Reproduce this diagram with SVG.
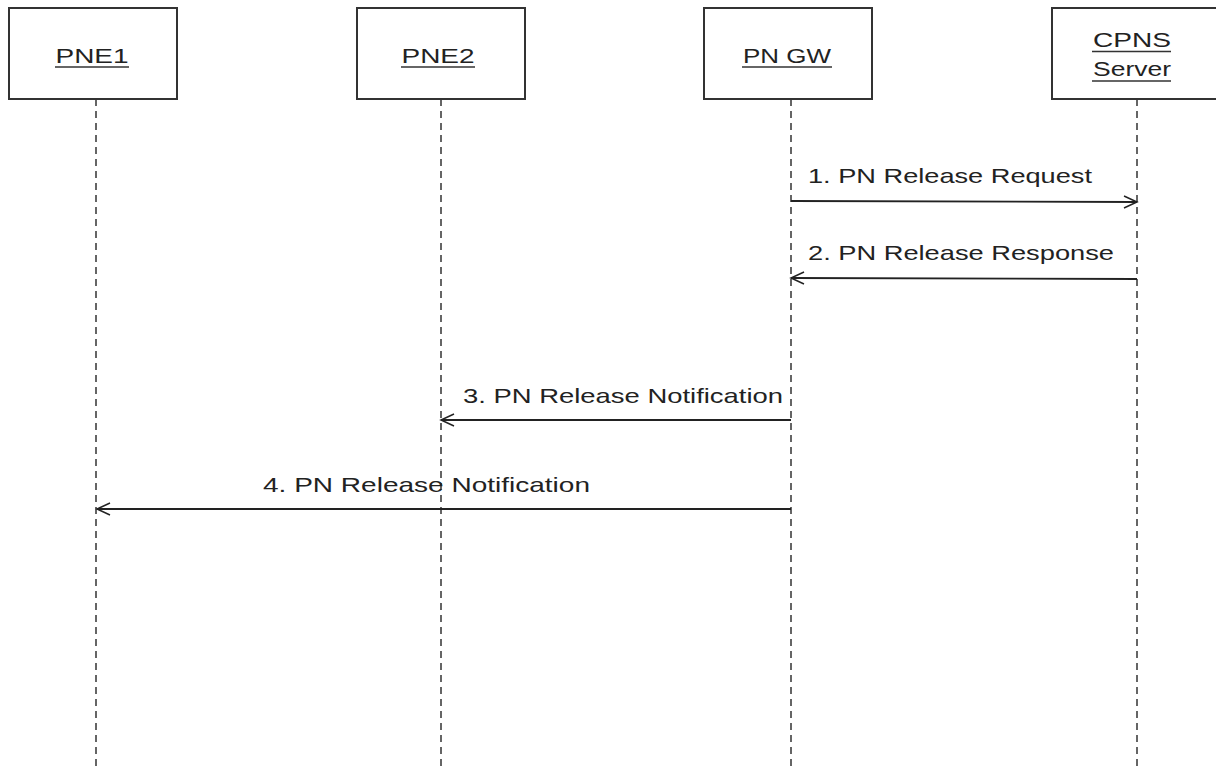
<svg xmlns="http://www.w3.org/2000/svg" width="1216" height="767" viewBox="0 0 1216 767">
<style>
.box{fill:#fff;stroke:#333;stroke-width:2}
.life{stroke:#333;stroke-width:1.5;stroke-dasharray:7 5;fill:none}
.msg{stroke:#222;stroke-width:1.8;fill:none}
.t{font-family:"Liberation Sans",Arial,sans-serif;font-size:21px;fill:#222}
.u{stroke:#333;stroke-width:1.5}
</style>
<defs>
<marker id="ah" markerWidth="16" markerHeight="14" refX="14" refY="7" orient="auto" markerUnits="userSpaceOnUse">
<path d="M1,1 L14,7 L1,13" fill="none" stroke="#222" stroke-width="1.5"/>
</marker>
</defs>
<rect width="1216" height="767" fill="#fff"/>
<g id="lifelines">
<line class="life" x1="96" y1="99" x2="96" y2="767"/>
<line class="life" x1="441" y1="99" x2="441" y2="767"/>
<line class="life" x1="791" y1="99" x2="791" y2="767"/>
<line class="life" x1="1137" y1="99" x2="1137" y2="767"/>
</g>
<g id="PNE1">
<rect class="box" x="9" y="8" width="168" height="91"/>
<text class="t" x="92" y="63" text-anchor="middle" textLength="73" lengthAdjust="spacingAndGlyphs">PNE1</text>
<line class="u" x1="55" y1="67" x2="129" y2="67"/>
</g>
<g id="PNE2">
<rect class="box" x="357" y="8" width="168" height="91"/>
<text class="t" x="438" y="63" text-anchor="middle" textLength="73" lengthAdjust="spacingAndGlyphs">PNE2</text>
<line class="u" x1="401" y1="67" x2="475" y2="67"/>
</g>
<g id="PNGW">
<rect class="box" x="704" y="8" width="168" height="91"/>
<text class="t" x="787" y="63" text-anchor="middle" textLength="88" lengthAdjust="spacingAndGlyphs">PN GW</text>
<line class="u" x1="742" y1="67" x2="832" y2="67"/>
</g>
<g id="CPNS">
<rect class="box" x="1052" y="8" width="168" height="91"/>
<text class="t" x="1132" y="47" text-anchor="middle" textLength="78" lengthAdjust="spacingAndGlyphs">CPNS</text>
<line class="u" x1="1092" y1="51.500" x2="1171" y2="51.500"/>
<text class="t" x="1132" y="76" text-anchor="middle" textLength="78" lengthAdjust="spacingAndGlyphs">Server</text>
<line class="u" x1="1092" y1="81" x2="1171" y2="81"/>
</g>
<g id="connectors">
<line class="msg" x1="791" y1="201" x2="1137" y2="202" marker-end="url(#ah)"/>
<text class="t" x="808" y="183" textLength="284" lengthAdjust="spacingAndGlyphs">1. PN Release Request</text>
<line class="msg" x1="1137" y1="279" x2="791" y2="278" marker-end="url(#ah)"/>
<text class="t" x="808" y="260" textLength="306" lengthAdjust="spacingAndGlyphs">2. PN Release Response</text>
<line class="msg" x1="791" y1="420" x2="441" y2="420" marker-end="url(#ah)"/>
<text class="t" x="463" y="403" textLength="320" lengthAdjust="spacingAndGlyphs">3. PN Release Notification</text>
<line class="msg" x1="791" y1="509" x2="97" y2="509" marker-end="url(#ah)"/>
<text class="t" x="263" y="492" textLength="327" lengthAdjust="spacingAndGlyphs">4. PN Release Notification</text>
</g>
</svg>
